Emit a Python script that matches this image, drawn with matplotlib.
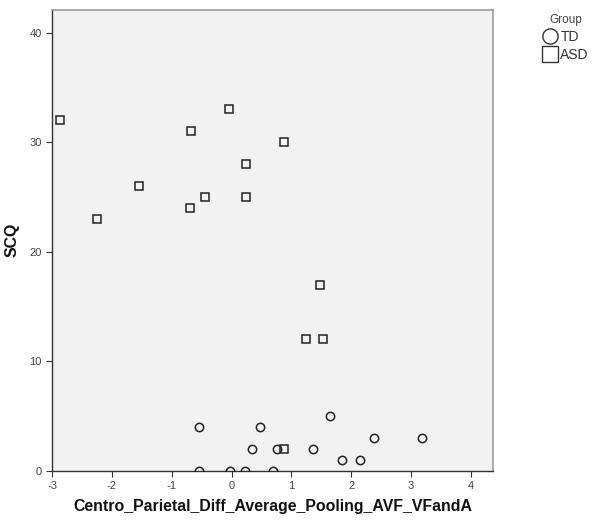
import matplotlib
matplotlib.use('Agg')
import matplotlib.pyplot as plt
from matplotlib.lines import Line2D

plt.rcParams['font.family'] = ['Liberation Sans', 'DejaVu Sans']
plt.rcParams['axes.unicode_minus'] = False

# ── 数据 ──────────────────────────────────────────────────────────────
td_x = [-0.54, 0.48, 0.35, 0.76, -0.55, -0.03, 0.23, 0.69,
        1.64, 1.36, 2.38, 3.19, 1.84, 2.15]
td_y = [4, 4, 2, 2, 0, 0, 0, 0, 5, 2, 3, 3, 1, 1]

asd_x = [-2.87, -2.25, -1.55, -0.67, -0.70, -0.45, -0.05, 0.24,
         0.25, 0.88, 1.48, 1.25, 1.53, 0.88]
asd_y = [32, 23, 26, 31, 24, 25, 33, 28, 25, 30, 17, 12, 12, 2]

x_ticks = [-3, -2, -1, 0, 1, 2, 3, 4]
y_ticks = [0, 10, 20, 30, 40]

# ── 样式 ──────────────────────────────────────────────────────────────
PANEL = '#f2f2f2'
DARK = '#333333'
GREY = '#999999'

fig = plt.figure(figsize=(6.02, 5.27), dpi=100, facecolor='white')
ax = fig.add_axes([52 / 602, 1 - 470.7 / 527, 441 / 602, 460.7 / 527])
ax.set_facecolor(PANEL)

ax.plot(td_x, td_y, ls='none', marker='o', ms=6, mfc='none',
        mec='#222222', mew=1.1, zorder=3)
ax.plot(asd_x, asd_y, ls='none', marker='s', ms=6, mfc='none',
        mec='#222222', mew=1.1, zorder=3)

ax.set_xlim(-3, 4.37)
ax.set_ylim(0, 42.07)
ax.set_xticks(x_ticks)
ax.set_yticks(y_ticks)
ax.tick_params(direction='out', length=4, width=0.8, colors=DARK,
               labelsize=8, labelcolor='#444444')

for side in ('left', 'bottom'):
    ax.spines[side].set_color(DARK)
    ax.spines[side].set_linewidth(1.0)
for side in ('top', 'right'):
    ax.spines[side].set_color(GREY)
    ax.spines[side].set_linewidth(1.2)

ax.set_xlabel('Centro_Parietal_Diff_Average_Pooling_AVF_VFandA',
              fontsize=11.4, fontweight='bold', color='#111111', labelpad=6)
ax.set_ylabel('SCQ', fontsize=11.4, fontweight='bold', color='#111111',
              labelpad=7)

# ── 图例 ──────────────────────────────────────────────────────────────
handles = [
    Line2D([], [], ls='none', marker='o', ms=11, mfc='none',
           mec='#333333', mew=1.0, label='TD'),
    Line2D([], [], ls='none', marker='s', ms=11, mfc='none',
           mec='#333333', mew=1.0, label='ASD'),
]
leg = fig.legend(handles=handles, title='Group', loc='upper left',
                 bbox_to_anchor=(543 / 602, 1 - 14 / 527), frameon=False,
                 fontsize=10, title_fontsize=8.5, handlelength=1.0,
                 handletextpad=0.25, labelspacing=0.3, borderaxespad=0,
                 borderpad=0)
for t in leg.get_texts():
    t.set_color('#333333')
leg.get_title().set_color('#444444')

fig.savefig('out.png', dpi=100, facecolor='white')
